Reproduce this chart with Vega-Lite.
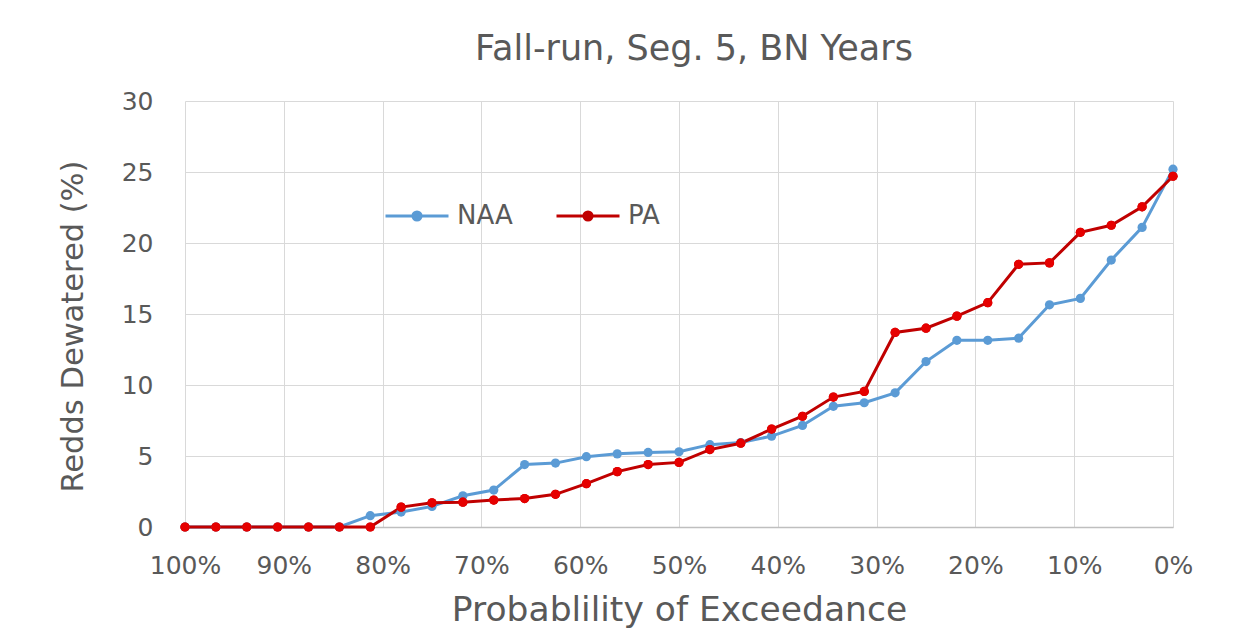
{
  "$schema": "https://vega.github.io/schema/vega-lite/v6.json",
  "width": 988,
  "height": 426,
  "autosize": {"type": "none"},
  "padding": {"left": 185, "top": 101, "right": 79, "bottom": 116},
  "background": "white",
  "title": {
    "text": "Fall-run, Seg. 5, BN Years",
    "font": "DejaVu Sans",
    "fontSize": 35,
    "fontWeight": "normal",
    "color": "#595959",
    "anchor": "middle",
    "dx": 15,
    "offset": 22
  },
  "config": {
    "view": {"stroke": null},
    "font": "DejaVu Sans"
  },
  "data": {
    "values": [
      {"p": 100, "series": "NAA", "v": 0},
      {"p": 96.875, "series": "NAA", "v": 0},
      {"p": 93.75, "series": "NAA", "v": 0},
      {"p": 90.625, "series": "NAA", "v": 0},
      {"p": 87.5, "series": "NAA", "v": 0},
      {"p": 84.375, "series": "NAA", "v": 0},
      {"p": 81.25, "series": "NAA", "v": 0.8},
      {"p": 78.125, "series": "NAA", "v": 1.05},
      {"p": 75, "series": "NAA", "v": 1.45},
      {"p": 71.875, "series": "NAA", "v": 2.2},
      {"p": 68.75, "series": "NAA", "v": 2.6},
      {"p": 65.625, "series": "NAA", "v": 4.4},
      {"p": 62.5, "series": "NAA", "v": 4.5},
      {"p": 59.375, "series": "NAA", "v": 4.95},
      {"p": 56.25, "series": "NAA", "v": 5.15},
      {"p": 53.125, "series": "NAA", "v": 5.25},
      {"p": 50, "series": "NAA", "v": 5.3},
      {"p": 46.875, "series": "NAA", "v": 5.8},
      {"p": 43.75, "series": "NAA", "v": 5.95},
      {"p": 40.625, "series": "NAA", "v": 6.4},
      {"p": 37.5, "series": "NAA", "v": 7.15},
      {"p": 34.375, "series": "NAA", "v": 8.5},
      {"p": 31.25, "series": "NAA", "v": 8.75},
      {"p": 28.125, "series": "NAA", "v": 9.45},
      {"p": 25, "series": "NAA", "v": 11.65},
      {"p": 21.875, "series": "NAA", "v": 13.15},
      {"p": 18.75, "series": "NAA", "v": 13.15},
      {"p": 15.625, "series": "NAA", "v": 13.3},
      {"p": 12.5, "series": "NAA", "v": 15.65},
      {"p": 9.375, "series": "NAA", "v": 16.1},
      {"p": 6.25, "series": "NAA", "v": 18.8},
      {"p": 3.125, "series": "NAA", "v": 21.1},
      {"p": 0, "series": "NAA", "v": 25.2},
      {"p": 100, "series": "PA", "v": 0},
      {"p": 96.875, "series": "PA", "v": 0},
      {"p": 93.75, "series": "PA", "v": 0},
      {"p": 90.625, "series": "PA", "v": 0},
      {"p": 87.5, "series": "PA", "v": 0},
      {"p": 84.375, "series": "PA", "v": 0},
      {"p": 81.25, "series": "PA", "v": 0},
      {"p": 78.125, "series": "PA", "v": 1.4},
      {"p": 75, "series": "PA", "v": 1.7},
      {"p": 71.875, "series": "PA", "v": 1.75},
      {"p": 68.75, "series": "PA", "v": 1.9},
      {"p": 65.625, "series": "PA", "v": 2.0},
      {"p": 62.5, "series": "PA", "v": 2.3},
      {"p": 59.375, "series": "PA", "v": 3.05},
      {"p": 56.25, "series": "PA", "v": 3.9},
      {"p": 53.125, "series": "PA", "v": 4.4},
      {"p": 50, "series": "PA", "v": 4.55},
      {"p": 46.875, "series": "PA", "v": 5.45},
      {"p": 43.75, "series": "PA", "v": 5.9},
      {"p": 40.625, "series": "PA", "v": 6.9},
      {"p": 37.5, "series": "PA", "v": 7.8},
      {"p": 34.375, "series": "PA", "v": 9.15},
      {"p": 31.25, "series": "PA", "v": 9.55},
      {"p": 28.125, "series": "PA", "v": 13.7},
      {"p": 25, "series": "PA", "v": 14.0},
      {"p": 21.875, "series": "PA", "v": 14.85},
      {"p": 18.75, "series": "PA", "v": 15.8},
      {"p": 15.625, "series": "PA", "v": 18.5},
      {"p": 12.5, "series": "PA", "v": 18.6},
      {"p": 9.375, "series": "PA", "v": 20.75},
      {"p": 6.25, "series": "PA", "v": 21.25},
      {"p": 3.125, "series": "PA", "v": 22.55},
      {"p": 0, "series": "PA", "v": 24.7}
    ]
  },
  "encoding": {
    "x": {
      "field": "p",
      "type": "quantitative",
      "scale": {"domain": [0, 100], "reverse": true, "nice": false, "zero": false},
      "axis": {
        "title": "Probablility of Exceedance",
        "values": [0, 10, 20, 30, 40, 50, 60, 70, 80, 90, 100],
        "labelExpr": "datum.value + '%'",
        "labelFlush": false,
        "labelOverlap": false,
        "labelFontSize": 25,
        "labelColor": "#595959",
        "labelPadding": 26,
        "titleFontSize": 34.5,
        "titleFontWeight": "normal",
        "titleColor": "#595959",
        "titlePadding": 15,
        "grid": true,
        "gridColor": "#d9d9d9",
        "gridWidth": 1,
        "domainColor": "#bfbfbf",
        "domainWidth": 1.5,
        "ticks": false
      }
    },
    "y": {
      "field": "v",
      "type": "quantitative",
      "scale": {"domain": [0, 30], "nice": false},
      "axis": {
        "title": "Redds Dewatered (%)",
        "values": [0, 5, 10, 15, 20, 25, 30],
        "labelFontSize": 25,
        "labelColor": "#595959",
        "labelPadding": 32,
        "titleFontSize": 30.5,
        "titleFontWeight": "normal",
        "titleColor": "#595959",
        "titlePadding": 33,
        "titleY": 225,
        "grid": true,
        "gridColor": "#d9d9d9",
        "gridWidth": 1,
        "domain": false,
        "ticks": false
      }
    },
    "color": {
      "field": "series",
      "type": "nominal",
      "scale": {"domain": ["NAA", "PA"], "range": ["#5B9BD5", "#C00000"]},
      "legend": {
        "title": null,
        "orient": "none",
        "direction": "horizontal",
        "legendX": 199,
        "legendY": 82,
        "labelFontSize": 26,
        "labelColor": "#595959",
        "symbolType": "M-1,0L1,0M-0.13,0A0.13,0.13 0 1 0 0.13,0A0.13,0.13 0 1 0 -0.13,0",
        "symbolSize": 3969,
        "symbolStrokeWidth": 3,
        "columnPadding": 37,
        "labelOffset": 7
      }
    },
    "order": {"field": "p", "sort": "descending"}
  },
  "layer": [
    {"mark": {"type": "line", "strokeWidth": 3}},
    {"mark": {"type": "point", "filled": true, "size": 85, "opacity": 1}},
    {
      "transform": [{"filter": "datum.series == 'PA'"}],
      "mark": {"type": "point", "filled": true, "size": 85, "opacity": 1, "color": "#E60000"},
      "encoding": {"color": {"value": "#E60000"}}
    }
  ]
}
